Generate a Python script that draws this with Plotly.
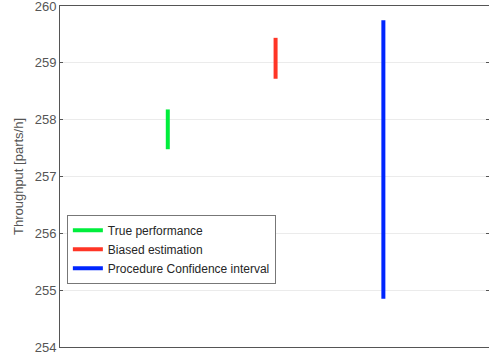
import plotly.graph_objects as go

# Interval series: position on the x axis, lower and upper bound (parts/h)
names = ["True performance", "Biased estimation", "Procedure Confidence interval"]
positions = [1, 2, 3]
lower = [257.48, 258.72, 254.85]
upper = [258.18, 259.44, 259.75]
colors = ["#00ee3c", "#ff3526", "#0026ff"]

y_ticks = [254, 255, 256, 257, 258, 259, 260]

fig = go.Figure()
for name, x, lo, hi, c in zip(names, positions, lower, upper, colors):
    fig.add_trace(go.Scatter(
        x=[x, x], y=[lo, hi], mode="lines", name=name,
        line=dict(color=c, width=4),
    ))

axis_font = dict(family="Liberation Sans, Arial, sans-serif", size=13, color="#555555")

fig.update_layout(
    width=489, height=360,
    margin=dict(l=60, r=0, t=6, b=13),
    plot_bgcolor="white", paper_bgcolor="white",
    showlegend=True,
    legend=dict(
        x=0.016, y=0.388, xanchor="left", yanchor="top",
        bgcolor="white", bordercolor="#777777", borderwidth=1,
        font=dict(family="Liberation Sans, Arial, sans-serif", size=12, color="#262626"),
        tracegroupgap=0, itemwidth=30,
    ),
    xaxis=dict(
        range=[0, 3.98], showticklabels=False, ticks="", showgrid=False,
        zeroline=False, showline=True, linecolor="#555555", linewidth=1, mirror=True,
    ),
    yaxis=dict(
        range=[254, 260], tickvals=y_ticks, ticks="inside", ticklen=3,
        tickcolor="#555555", showgrid=True, gridcolor="#ebebeb", zeroline=False,
        showline=True, linecolor="#555555", linewidth=1, mirror="ticks",
        tickfont=axis_font, ticklabeloverflow="allow",
        title=dict(text="Throughput [parts/h]", font=axis_font, standoff=8),
    ),
)

fig.write_html("out.html")
